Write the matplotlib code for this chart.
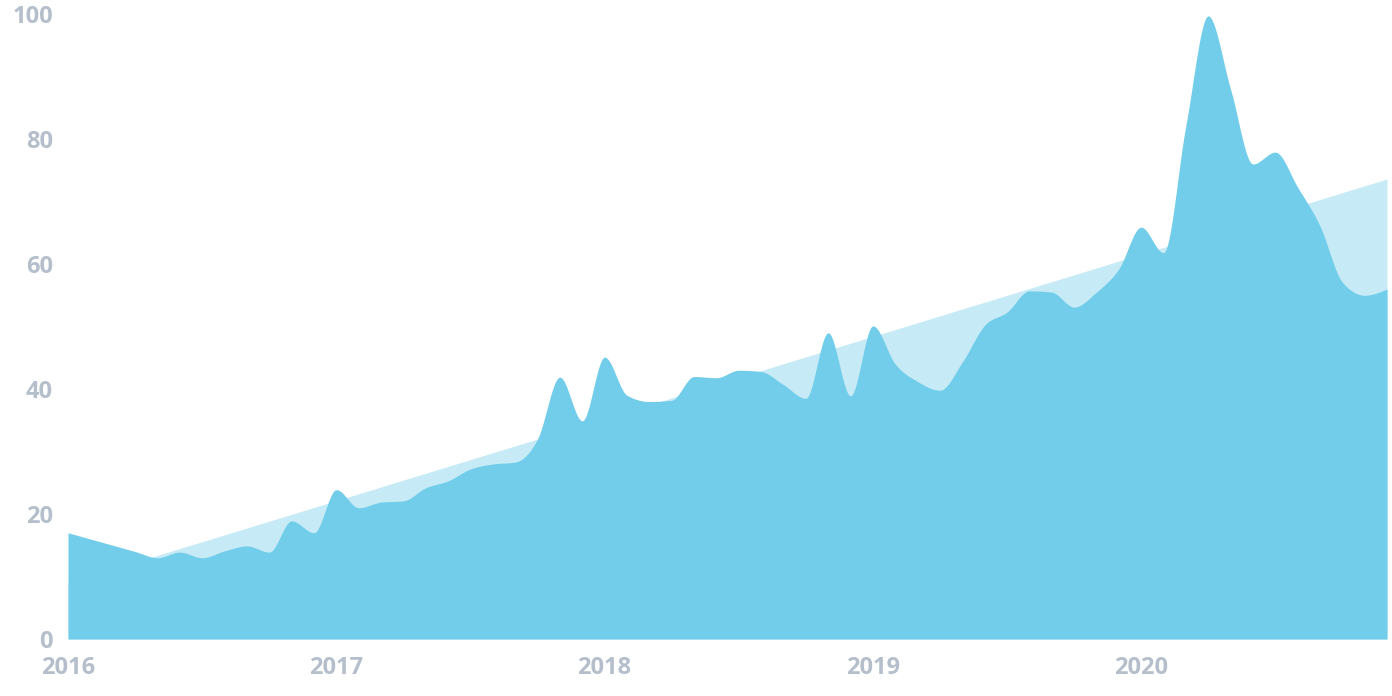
import numpy as np
import matplotlib
matplotlib.use("Agg")
import matplotlib.pyplot as plt

# Monthly values, Jan 2016 .. Dec 2020
months = np.arange(60)
values = [17.0, 16.0, 15.0, 14.0, 13.0, 13.9, 13.0, 14.1, 14.9, 13.9, 18.9, 17.0,
          23.9, 21.0, 21.9, 22.1, 24.2, 25.3, 27.2, 28.0, 28.3, 32.0, 41.9, 34.9,
          45.1, 39.0, 38.0, 38.2, 42.0, 41.8, 43.0, 42.8, 40.7, 38.5, 49.0, 38.9,
          50.1, 44.0, 41.2, 39.8, 44.3, 50.2, 52.3, 55.7, 55.5, 53.1, 55.5, 59.2,
          65.9, 61.8, 82.1, 99.7, 88.0, 76.0, 77.9, 72.3, 66.1, 57.1, 55.0, 56.0]
trend_start, trend_end = 9.0, 73.6
year_labels = ["2016", "2017", "2018", "2019", "2020"]
y_ticks = [0, 20, 40, 60, 80, 100]

DARK = "#72CDEA"
LIGHT = "#C7EBF6"
TICK = "#B4BFCB"


def monotone_x(x, y, n=20):
    x = np.asarray(x, float)
    y = np.asarray(y, float)
    h = np.diff(x)
    s = np.diff(y) / h
    m = np.zeros_like(y)
    for i in range(1, len(y) - 1):
        s0, s1 = s[i - 1], s[i]
        p = (s0 * h[i] + s1 * h[i - 1]) / (h[i - 1] + h[i])
        m[i] = (np.sign(s0) + np.sign(s1)) * min(abs(s0), abs(s1), 0.5 * abs(p))
    m[0] = (3 * s[0] - m[1]) / 2
    m[-1] = (3 * s[-1] - m[-2]) / 2
    xs, ys = [], []
    for i in range(len(y) - 1):
        t = np.linspace(0, 1, n, endpoint=False)
        h00 = 2 * t**3 - 3 * t**2 + 1
        h10 = t**3 - 2 * t**2 + t
        h01 = -2 * t**3 + 3 * t**2
        h11 = t**3 - t**2
        xs.append(x[i] + t * h[i])
        ys.append(h00 * y[i] + h10 * h[i] * m[i] + h01 * y[i + 1] + h11 * h[i] * m[i + 1])
    xs.append([x[-1]])
    ys.append([y[-1]])
    return np.concatenate(xs), np.concatenate(ys)


fig = plt.figure(figsize=(13.92, 6.96), dpi=100)
ax = fig.add_axes([68 / 1392, 1 - 639 / 696, (1387 - 68) / 1392, (639 - 14) / 696])

trend = np.linspace(trend_start, trend_end, len(months))
ax.fill_between(months, 0, trend, color=LIGHT, lw=0)
sx, sy = monotone_x(months, values)
ax.fill_between(sx, 0, sy, color=DARK, lw=0)

ax.set_xlim(months[0], months[-1])
ax.set_ylim(0, 100)
for sp in ax.spines.values():
    sp.set_visible(False)
ax.set_xticks([12 * k for k in range(len(year_labels))])
ax.set_xticklabels(year_labels)
ax.set_yticks(y_ticks)
ax.set_yticklabels([str(v) for v in y_ticks])
ax.tick_params(length=0, colors=TICK, labelsize=17)
ax.tick_params(axis="y", pad=11)
ax.tick_params(axis="x", pad=12)
for lab in ax.get_xticklabels() + ax.get_yticklabels():
    lab.set_fontfamily(["Open Sans", "DejaVu Sans"])
    lab.set_fontweight("bold")

fig.savefig("out.png", dpi=100)
